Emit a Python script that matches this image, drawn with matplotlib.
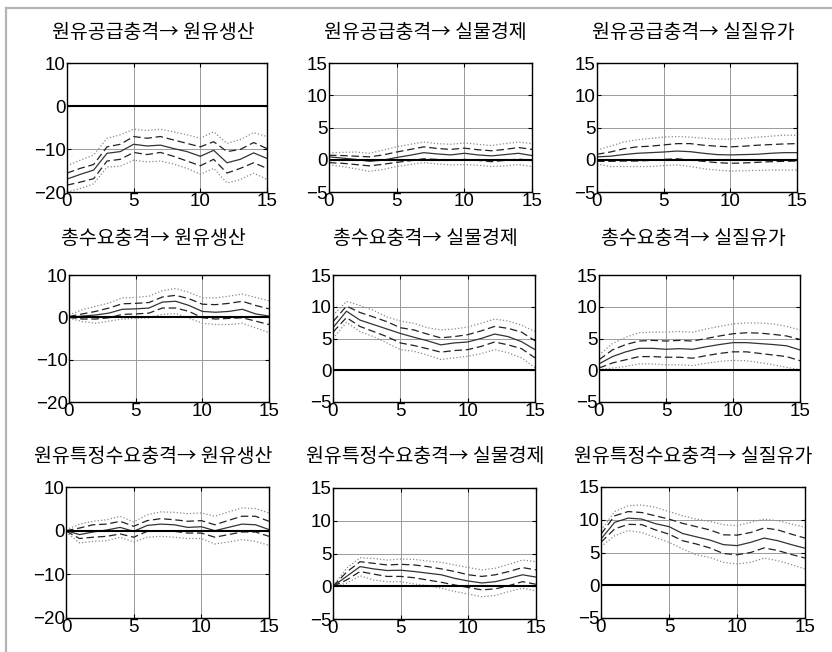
import numpy as np
import matplotlib
matplotlib.use('Agg')
import matplotlib.pyplot as plt
from matplotlib.lines import Line2D

plt.rcParams['font.family'] = ['Liberation Sans', 'DejaVu Sans']
plt.rcParams['axes.unicode_minus'] = True

horizon = np.arange(16)

shocks = ['원유공급충격', '총수요충격', '원유특정수요충격']
targets = ['원유생산', '실물경제', '실질유가']

# responses: median, dashed band (upper/lower), dotted band (upper/lower)
# --- oil supply shock ---
sup_prod_med = [-17.0, -15.9, -14.9, -11.0, -10.6, -8.9, -9.3, -9.1, -9.9, -10.6, -11.7, -10.3, -13.2, -12.4, -10.9, -12.2]
sup_prod_dhi = [-15.6, -14.5, -13.6, -9.5, -8.9, -7.1, -7.5, -7.1, -7.9, -8.7, -9.5, -8.3, -10.6, -10.1, -8.5, -9.9]
sup_prod_dlo = [-18.4, -17.7, -16.9, -12.8, -12.4, -10.8, -11.3, -10.8, -11.7, -12.8, -13.9, -12.4, -15.6, -14.5, -13.2, -14.5]
sup_prod_ohi = [-13.9, -12.6, -11.4, -7.5, -6.7, -5.4, -5.7, -5.4, -6.0, -6.7, -7.5, -6.0, -8.7, -7.8, -6.2, -7.1]
sup_prod_olo = [-20.0, -19.2, -18.1, -14.2, -14.0, -12.6, -13.0, -12.8, -13.5, -14.5, -15.9, -14.5, -17.9, -17.1, -15.6, -17.1]

sup_econ_med = [0.45, 0.25, 0.05, -0.25, -0.05, 0.35, 0.7, 1.1, 0.9, 0.75, 1.0, 0.75, 0.6, 0.8, 1.0, 0.65]
sup_econ_dhi = [0.7, 0.65, 0.55, 0.45, 0.75, 1.2, 1.6, 2.0, 1.75, 1.6, 1.8, 1.55, 1.4, 1.6, 1.9, 1.6]
sup_econ_dlo = [-0.45, -0.55, -0.75, -0.95, -0.7, -0.4, -0.15, 0.15, 0.05, -0.1, 0.05, -0.1, -0.3, -0.1, 0.1, -0.1]
sup_econ_ohi = [1.05, 1.15, 1.2, 1.0, 1.5, 2.0, 2.4, 2.75, 2.5, 2.4, 2.6, 2.4, 2.2, 2.5, 2.75, 2.5]
sup_econ_olo = [-0.8, -1.05, -1.4, -1.8, -1.5, -1.05, -0.75, -0.45, -0.65, -0.8, -0.75, -0.85, -1.05, -0.95, -0.75, -1.05]

sup_oil_med = [0.45, 0.55, 0.8, 1.0, 1.1, 1.2, 1.35, 1.25, 1.0, 0.8, 0.75, 0.8, 0.85, 1.0, 1.1, 1.1]
sup_oil_dhi = [0.85, 1.2, 1.7, 2.0, 2.1, 2.3, 2.5, 2.5, 2.25, 2.1, 2.0, 2.1, 2.25, 2.35, 2.45, 2.5]
sup_oil_dlo = [-0.25, -0.25, -0.2, -0.2, -0.1, 0.05, 0.15, -0.05, -0.25, -0.45, -0.55, -0.5, -0.4, -0.3, -0.25, -0.2]
sup_oil_ohi = [1.5, 2.1, 2.75, 3.1, 3.3, 3.5, 3.6, 3.5, 3.35, 3.2, 3.2, 3.3, 3.5, 3.65, 3.8, 3.8]
sup_oil_olo = [-0.65, -1.05, -1.05, -1.05, -1.05, -0.9, -0.8, -1.05, -1.4, -1.6, -1.75, -1.7, -1.65, -1.6, -1.6, -1.6]

# --- aggregate demand shock ---
dem_prod_med = [0.0, 0.3, 0.55, 1.0, 1.9, 2.0, 2.2, 3.6, 3.8, 2.8, 1.4, 1.2, 1.4, 1.9, 0.8, 0.3]
dem_prod_dhi = [0.2, 0.8, 1.4, 2.2, 3.2, 3.3, 3.5, 4.8, 5.2, 4.4, 3.1, 3.0, 3.3, 3.8, 2.8, 2.0]
dem_prod_dlo = [0.0, -0.4, -0.4, -0.1, 0.7, 0.8, 1.0, 2.2, 2.2, 1.4, -0.1, -0.4, -0.25, -0.1, -0.9, -1.7]
dem_prod_ohi = [0.55, 1.8, 2.6, 3.4, 4.6, 4.7, 5.0, 6.3, 6.8, 5.9, 4.6, 4.6, 5.0, 5.5, 4.7, 3.9]
dem_prod_olo = [-0.2, -1.0, -1.4, -0.9, -0.4, -0.25, -0.1, 0.7, 0.9, -0.2, -1.4, -1.7, -1.7, -1.4, -2.5, -3.6]

dem_econ_med = [6.7, 9.3, 7.9, 7.2, 6.5, 5.8, 5.2, 4.65, 4.0, 4.3, 4.45, 5.0, 5.7, 5.3, 4.5, 3.25]
dem_econ_dhi = [7.65, 10.1, 9.1, 8.4, 7.65, 6.7, 6.35, 5.7, 5.1, 5.3, 5.6, 6.2, 6.9, 6.6, 6.0, 4.65]
dem_econ_dlo = [6.0, 8.3, 6.9, 6.1, 5.3, 4.3, 3.9, 3.4, 2.85, 3.1, 3.25, 3.75, 4.45, 4.0, 3.4, 1.95]
dem_econ_ohi = [8.6, 10.85, 10.2, 9.45, 8.4, 7.75, 7.4, 6.7, 6.35, 6.5, 6.8, 7.4, 8.05, 7.75, 7.1, 6.1]
dem_econ_olo = [5.0, 7.55, 6.1, 5.3, 4.3, 3.25, 3.0, 2.4, 1.7, 1.95, 2.2, 2.6, 3.25, 2.75, 1.95, 0.4]

dem_oil_med = [1.0, 2.15, 2.9, 3.45, 3.45, 3.3, 3.4, 3.3, 3.7, 4.05, 4.35, 4.35, 4.2, 4.05, 3.85, 3.2]
dem_oil_dhi = [1.65, 3.2, 4.05, 4.6, 4.7, 4.6, 4.7, 4.6, 5.0, 5.4, 5.75, 5.9, 5.85, 5.65, 5.4, 4.85]
dem_oil_dlo = [0.35, 1.15, 1.65, 2.15, 2.15, 2.05, 2.05, 1.9, 2.3, 2.65, 2.9, 2.9, 2.65, 2.4, 2.15, 1.5]
dem_oil_ohi = [2.4, 4.2, 5.2, 5.9, 6.0, 6.0, 6.1, 6.0, 6.5, 6.9, 7.3, 7.45, 7.45, 7.3, 6.9, 6.35]
dem_oil_olo = [0.1, 0.35, 0.6, 1.0, 1.0, 0.85, 0.85, 0.75, 1.1, 1.4, 1.55, 1.5, 1.2, 0.85, 0.45, 0.1]

# --- oil-specific demand shock ---
spc_prod_med = [0.0, -0.9, -0.3, 0.15, 0.75, -0.15, 1.2, 1.5, 1.35, 0.75, 0.9, 0.0, 0.75, 1.5, 1.35, 0.25]
spc_prod_dhi = [0.0, 0.6, 1.35, 1.5, 2.15, 1.0, 2.3, 2.75, 2.5, 2.15, 2.3, 1.35, 2.35, 3.3, 3.3, 2.15]
spc_prod_dlo = [-0.1, -1.8, -1.5, -1.3, -0.75, -1.5, -0.15, 0.0, -0.15, -0.55, -0.55, -1.5, -0.9, -0.3, -0.3, -1.3]
spc_prod_ohi = [0.2, 1.5, 2.15, 2.5, 3.3, 2.0, 3.65, 4.3, 4.2, 3.9, 4.05, 3.3, 4.3, 5.2, 5.05, 4.05]
spc_prod_olo = [-0.3, -2.8, -2.45, -2.3, -1.5, -2.6, -1.5, -1.3, -1.5, -1.8, -1.8, -3.05, -2.6, -2.05, -2.45, -3.35]

spc_econ_med = [0.0, 1.5, 3.0, 2.65, 2.4, 2.45, 2.25, 2.0, 1.75, 1.2, 0.8, 0.5, 0.7, 1.2, 1.75, 1.4]
spc_econ_dhi = [0.0, 2.15, 3.75, 3.5, 3.25, 3.35, 3.25, 3.0, 2.65, 2.25, 1.75, 1.5, 1.75, 2.25, 2.85, 2.5]
spc_econ_dlo = [0.0, 0.95, 2.25, 1.85, 1.5, 1.5, 1.3, 0.95, 0.6, 0.2, -0.2, -0.55, -0.4, 0.1, 0.7, 0.3]
spc_econ_ohi = [0.0, 2.75, 4.35, 4.25, 4.0, 4.15, 4.1, 3.85, 3.65, 3.25, 2.85, 2.5, 2.75, 3.35, 4.0, 3.75]
spc_econ_olo = [0.0, 0.45, 1.6, 0.95, 0.7, 0.7, 0.35, 0.1, -0.3, -0.8, -1.2, -1.6, -1.4, -0.8, -0.3, -0.7]

spc_oil_med = [7.05, 9.6, 10.25, 10.1, 9.4, 8.95, 7.9, 7.4, 6.9, 6.2, 6.05, 6.55, 7.2, 6.8, 6.2, 5.65]
spc_oil_dhi = [7.8, 10.6, 11.25, 11.1, 10.6, 10.1, 9.45, 8.95, 8.45, 7.7, 7.65, 8.05, 8.75, 8.45, 7.8, 7.2]
spc_oil_dlo = [6.55, 8.6, 9.3, 9.25, 8.45, 7.8, 6.8, 6.3, 5.7, 4.85, 4.65, 5.0, 5.7, 5.3, 4.7, 4.15]
spc_oil_ohi = [8.4, 11.25, 12.15, 12.25, 11.9, 11.25, 10.6, 10.1, 9.75, 9.25, 9.1, 9.6, 10.1, 9.85, 9.35, 8.85]
spc_oil_olo = [5.9, 7.55, 8.35, 8.05, 7.3, 6.55, 5.55, 4.65, 4.25, 3.5, 3.25, 3.5, 4.15, 3.75, 3.15, 2.5]

panels = [
    [(sup_prod_med, sup_prod_dhi, sup_prod_dlo, sup_prod_ohi, sup_prod_olo),
     (sup_econ_med, sup_econ_dhi, sup_econ_dlo, sup_econ_ohi, sup_econ_olo),
     (sup_oil_med, sup_oil_dhi, sup_oil_dlo, sup_oil_ohi, sup_oil_olo)],
    [(dem_prod_med, dem_prod_dhi, dem_prod_dlo, dem_prod_ohi, dem_prod_olo),
     (dem_econ_med, dem_econ_dhi, dem_econ_dlo, dem_econ_ohi, dem_econ_olo),
     (dem_oil_med, dem_oil_dhi, dem_oil_dlo, dem_oil_ohi, dem_oil_olo)],
    [(spc_prod_med, spc_prod_dhi, spc_prod_dlo, spc_prod_ohi, spc_prod_olo),
     (spc_econ_med, spc_econ_dhi, spc_econ_dlo, spc_econ_ohi, spc_econ_olo),
     (spc_oil_med, spc_oil_dhi, spc_oil_dlo, spc_oil_ohi, spc_oil_olo)],
]

ylims = [(-20, 10), (-5, 15), (-5, 15)]
yticks = [[-20, -10, 0, 10], [-5, 0, 5, 10, 15], [-5, 0, 5, 10, 15]]

W, H = 832, 652
fig = plt.figure(figsize=(W / 100, H / 100), dpi=100)

# axes boxes in pixels: (left, top, right, bottom)
boxes = [
    [(67, 63, 267, 192), (329, 63, 532, 192), (597, 63, 797, 192)],
    [(69, 275, 269, 402), (333, 275, 535, 402), (599, 275, 800, 402)],
    [(66, 487, 269, 618), (333, 488, 536, 619), (601, 487, 805, 618)],
]
title_x = [153, 425, 693]
title_y = [33, 239, 457]

for r in range(3):
    for c in range(3):
        l, t, rr, b = boxes[r][c]
        ax = fig.add_axes([l / W, 1 - b / H, (rr - l) / W, (b - t) / H])
        med, dhi, dlo, ohi, olo = panels[r][c]
        ax.plot(horizon, ohi, ':', color='#8a8a8a', lw=0.9)
        ax.plot(horizon, olo, ':', color='#8a8a8a', lw=0.9)
        ax.plot(horizon, dhi, '--', color='#222222', lw=0.9, dashes=(6, 3))
        ax.plot(horizon, dlo, '--', color='#222222', lw=0.9, dashes=(6, 3))
        ax.plot(horizon, med, '-', color='#333333', lw=0.9)
        ax.axhline(0, color='black', lw=1.5)
        ax.set_xlim(0, 15)
        ax.set_ylim(*ylims[c])
        ax.set_xticks([0, 5, 10, 15])
        ax.set_yticks(yticks[c])
        ax.grid(True, color='#9a9a9a', lw=0.7)
        ax.set_axisbelow(True)
        ax.tick_params(direction='in', length=3, labelsize=13.5, pad=1,
                       top=True, right=True, colors='black')
        for s in ax.spines.values():
            s.set_linewidth(1.0)
        fig.text(title_x[c] / W, 1 - title_y[r] / H, shocks[r] + '→ ' + targets[c],
                 ha='center', va='center', fontsize=14,
                 family=['Noto Sans CJK KR', 'DejaVu Sans'])

# light frame along the top and left edges
fig.add_artist(Line2D([6 / W, 6 / W], [0, 1 - 8 / H], color='#b4b4b4', lw=1.6))
fig.add_artist(Line2D([6 / W, 1], [1 - 8 / H, 1 - 8 / H], color='#b4b4b4', lw=1.6))

fig.savefig('out.png', dpi=100)
